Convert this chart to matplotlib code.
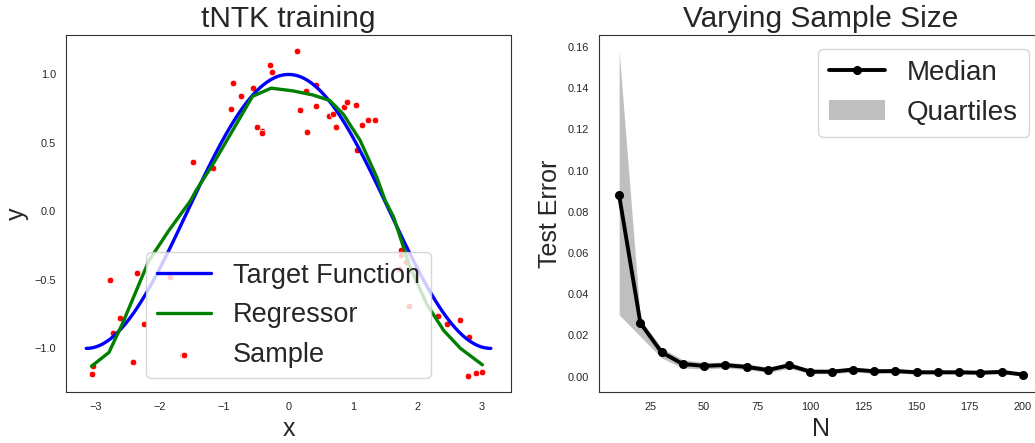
import numpy as np
import matplotlib

matplotlib.use("Agg")
import matplotlib.pyplot as plt
import seaborn as sns

sns.set_style("white")
plt.rcParams["font.family"] = ["Liberation Sans", "DejaVu Sans"]

# left panel: samples, regressor and target
sample_x = [0.125, -0.29, -0.25, -0.87, -0.55, -0.74, -0.89, -0.49, -0.41, -0.41,
            0.27, 0.42, 0.17, 0.42, 0.29, 0.63, 0.69, 0.73, 0.86, 0.91,
            1.04, 1.14, 1.23, 1.34, 1.06, -1.49, -1.18, -2.78, -2.35, -1.84,
            -2.61, -2.72, -2.25, -1.65, -2.42, -3.04, -3.05, 1.74, 1.74, 1.82,
            1.71, 1.87, 2.32, 2.46, 2.67, 2.80, 2.78, 2.91, 3.00]
sample_y = [1.17, 1.07, 1.02, 0.94, 0.90, 0.84, 0.75, 0.62, 0.59, 0.57,
            0.88, 0.92, 0.74, 0.77, 0.58, 0.70, 0.71, 0.62, 0.76, 0.80,
            0.78, 0.63, 0.67, 0.67, 0.45, 0.36, 0.32, -0.50, -0.45, -0.48,
            -0.78, -0.89, -0.82, -1.05, -1.10, -1.13, -1.19, -0.28, -0.32, -0.37,
            -0.42, -0.69, -0.76, -0.82, -0.79, -0.92, -1.20, -1.18, -1.17]

reg_x = [-3.06, -2.79, -2.58, -2.17, -1.86, -1.52, -1.44, -1.18, -0.87, -0.56,
         -0.27, 0.07, 0.38, 0.64, 0.85, 1.11, 1.37, 1.50, 1.63, 1.89,
         2.15, 2.41, 2.67, 3.01]
reg_y = [-1.13, -1.03, -0.82, -0.36, -0.14, 0.08, 0.15, 0.34, 0.59, 0.84,
         0.90, 0.88, 0.85, 0.81, 0.71, 0.52, 0.25, 0.08, -0.04, -0.41,
         -0.68, -0.87, -1.00, -1.12]

target_x = np.linspace(-np.pi, np.pi, 200)
target_y = np.cos(target_x)

# right panel: test error vs sample size
n_values = [10, 20, 30, 40, 50, 60, 70, 80, 90, 100,
            110, 120, 130, 140, 150, 160, 170, 180, 190, 200]
median_err = [0.088, 0.026, 0.0118, 0.0061, 0.0052, 0.0056, 0.0047, 0.0032, 0.0055, 0.0024,
              0.0024, 0.0034, 0.0026, 0.0027, 0.0021, 0.0021, 0.0021, 0.0019, 0.0023, 0.0010]
q_low = [0.030, 0.0195, 0.009, 0.0042, 0.0037, 0.0042, 0.0035, 0.0020, 0.0040, 0.0014,
         0.0014, 0.0022, 0.0016, 0.0017, 0.0012, 0.0012, 0.0012, 0.0010, 0.0013, 0.0004]
q_high = [0.158, 0.0279, 0.0139, 0.0082, 0.0069, 0.0070, 0.0062, 0.0046, 0.0068, 0.0036,
          0.0035, 0.0046, 0.0037, 0.0038, 0.0031, 0.0031, 0.0031, 0.0029, 0.0033, 0.0020]

fig = plt.figure(figsize=(10.35, 4.43), dpi=100)
ax1 = fig.add_axes([0.0638, 0.1151, 0.430, 0.806])
ax2 = fig.add_axes([0.5787, 0.1151, 0.429, 0.806])

ax1.plot(target_x, target_y, color="blue", lw=2.4, label="Target Function")
ax1.plot(reg_x, reg_y, color="green", lw=2.4, label="Regressor")
ax1.scatter(sample_x, sample_y, s=22, color="red", edgecolor="white",
            linewidth=0.5, zorder=1.5, label="Sample")
ax1.set_title("tNTK training", fontsize=21.5)
ax1.set_xlabel("x", fontsize=18)
ax1.set_ylabel("y", fontsize=18)
ax1.tick_params(labelsize=7.9)
ax1.legend(loc="lower center", fontsize=19.5)

band = ax2.fill_between(n_values, q_low, q_high, color="gray", alpha=0.5, lw=0,
                        label="Quartiles")
med_line, = ax2.plot(n_values, median_err, color="black", lw=2.8, marker="o",
                     markersize=5.5, label="Median")
ax2.set_title("Varying Sample Size", fontsize=21.5)
ax2.set_xlabel("N", fontsize=18)
ax2.set_ylabel("Test Error", fontsize=18)
ax2.tick_params(labelsize=7.9)
ax2.legend(handles=[med_line, band], loc="upper right", fontsize=20)

for ax in (ax1, ax2):
    for spine in ax.spines.values():
        spine.set_color("0.2")

fig.savefig("out.png", dpi=100)
